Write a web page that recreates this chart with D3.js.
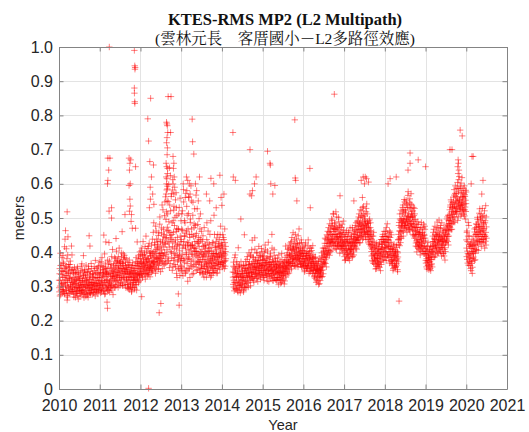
<!DOCTYPE html>
<html>
<head>
<meta charset="utf-8">
<script src="https://cdn.jsdelivr.net/npm/d3@7/dist/d3.min.js"></script>
<style>
  html, body { margin: 0; padding: 0; background: #fff; }
  svg { display: block; }
</style>
</head>
<body>
<svg id="chart" width="529" height="432"></svg>
<script>
// RMS of the MP2 (L2 multipath) combination for station KTES, in metres.
// Each year is stored as two interleaved lists ("a" and "b" sessions) of 120
// evenly spaced values; null marks days without data.
const years = [2010, 2011, 2012, 2013, 2014, 2015, 2016, 2017, 2018, 2019, 2020];

const mp2_2010a = [
  .318,.284,.352,.301,.397,.276,.335,.309,.362,.291,
  .327,.298,.371,.285,.343,.312,.416,.279,.331,.356,
  .304,.345,.288,.381,.317,.269,.338,.296,.364,.322,
  .351,.293,.327,.374,.306,.284,.346,.318,.392,.299,
  .289,.326,.305,.348,.277,.314,.297,.336,.268,.321,
  .308,.281,.339,.296,.357,.273,.318,.302,.329,.287,
  .296,.324,.279,.311,.345,.288,.305,.366,.284,.317,
  .313,.276,.332,.298,.283,.349,.305,.292,.327,.271,
  .287,.319,.303,.341,.275,.312,.294,.358,.306,.282,
  .321,.297,.279,.336,.304,.288,.352,.311,.293,.327,
  .298,.335,.312,.282,.346,.307,.291,.376,.318,.285,
  .309,.283,.341,.302,.325,.288,.359,.296,.318,.334
];
const mp2_2010b = [
  .296,.337,.272,.318,.361,.289,.346,.305,.384,.281,
  .344,.309,.291,.367,.326,.278,.352,.438,.301,.319,
  .287,.332,.359,.274,.311,.392,.298,.341,.281,.356,
  .323,.279,.364,.302,.337,.291,.418,.312,.285,.349,
  .311,.284,.339,.269,.322,.356,.293,.308,.341,.286,
  .279,.318,.297,.352,.286,.327,.263,.341,.306,.292,
  .318,.271,.336,.302,.289,.359,.281,.323,.298,.347,
  .289,.331,.305,.267,.342,.316,.278,.336,.301,.362,
  .316,.278,.342,.297,.325,.268,.351,.309,.287,.331,
  .302,.344,.281,.319,.367,.291,.312,.276,.338,.305,
  .327,.281,.303,.358,.292,.324,.272,.339,.301,.353,
  .292,.326,.308,.354,.278,.337,.312,.289,.371,.304
];
const mp2_2011a = [
  .326,.291,.348,.307,.372,.284,.317,.339,.296,.358,
  .303,.341,.286,.329,.395,.311,.279,.352,.318,.337,
  .345,.298,.321,.377,.289,.334,.306,.428,.315,.283,
  .312,.356,.295,.338,.317,.387,.301,.329,.346,.276,
  .338,.305,.367,.322,.349,.296,.381,.331,.313,.403,
  .354,.318,.376,.333,.297,.361,.342,.412,.326,.368,
  .331,.372,.309,.353,.386,.321,.344,.367,.302,.395,
  .362,.327,.348,.384,.313,.339,.371,.296,.356,.327,
  .318,.349,.295,.337,.363,.306,.328,.377,.291,.342,
  .335,.298,.321,.356,.287,.343,.312,.369,.304,.328,
  .311,.346,.327,.292,.361,.318,.339,.384,.305,.334,
  .348,.321,.367,.336,.389,.315,.352,.332,.401,.343
];
const mp2_2011b = [
  .302,.339,.281,.361,.315,.293,.384,.327,.306,.349,
  .331,.288,.356,.312,.277,.342,.368,.301,.336,.295,
  .318,.352,.291,.336,.302,.365,.287,.341,.374,.309,
  .297,.328,.364,.303,.352,.289,.331,.408,.322,.343,
  .361,.327,.298,.384,.342,.316,.357,.301,.372,.334,
  .328,.369,.341,.306,.387,.352,.318,.346,.374,.302,
  .357,.312,.339,.398,.326,.368,.303,.351,.337,.379,
  .324,.352,.391,.336,.305,.361,.343,.382,.319,.351,
  .342,.306,.371,.327,.294,.356,.318,.338,.362,.301,
  .309,.347,.326,.284,.339,.362,.297,.331,.352,.318,
  .339,.296,.318,.353,.337,.305,.372,.322,.289,.361,
  .327,.372,.339,.311,.358,.381,.334,.366,.318,.393
];
const mp2_2012a = [
  .352,.381,.334,.369,.412,.345,.326,.392,.358,.374,
  .367,.338,.398,.356,.321,.385,.447,.349,.372,.336,
  .381,.346,.363,.417,.335,.372,.354,.398,.328,.389,
  .358,.403,.341,.376,.362,.438,.347,.384,.369,.486,
  .392,.356,.421,.373,.338,.407,.462,.381,.349,.415,
  .368,.432,.384,.351,.457,.396,.372,.503,.386,.343,
  .418,.376,.471,.397,.352,.436,.524,.389,.447,.366,
  .452,.398,.547,.423,.368,.496,.441,.582,.407,.473,
  .512,.386,.463,.598,.427,.355,.538,.449,.624,.402,
  .437,.571,.382,.486,.416,.612,.359,.458,.523,.396,
  .478,.364,.427,.553,.392,.461,.338,.507,.418,.372,
  .423,.351,.468,.386,.531,.404,.332,.447,.375,.492
];
const mp2_2012b = [
  .371,.338,.404,.356,.329,.389,.365,.431,.342,.378,
  .348,.392,.361,.417,.337,.369,.352,.403,.378,.331,
  .362,.411,.339,.382,.354,.426,.348,.371,.397,.357,
  .389,.352,.421,.367,.344,.397,.372,.458,.359,.402,
  .371,.428,.386,.352,.476,.397,.364,.438,.381,.409,
  .423,.378,.449,.361,.412,.391,.482,.368,.431,.397,
  .382,.456,.407,.538,.372,.428,.391,.467,.415,.363,
  .507,.426,.381,.562,.443,.394,.518,.462,.372,.593,
  .431,.548,.376,.489,.415,.647,.458,.367,.521,.442,
  .563,.398,.452,.347,.582,.431,.492,.376,.534,.412,
  .384,.502,.436,.357,.574,.409,.468,.326,.443,.391,
  .467,.378,.512,.352,.421,.389,.558,.362,.431,.347
];
const mp2_2013a = [
  .437,.358,.512,.394,.463,.331,.421,.547,.382,.448,
  .371,.486,.412,.342,.456,.398,.534,.367,.429,.315,
  .468,.386,.427,.562,.351,.443,.404,.497,.362,.418,
  .395,.452,.336,.421,.508,.377,.446,.359,.483,.412,
  .431,.364,.478,.402,.346,.455,.389,.527,.372,.426,
  .384,.443,.356,.417,.372,.468,.341,.401,.436,.365,
  .362,.407,.338,.386,.448,.353,.394,.327,.419,.371,
  .389,.342,.412,.366,.327,.437,.378,.351,.403,.462,
  .347,.395,.366,.423,.338,.381,.354,.492,.371,.332,
  .403,.356,.381,.341,.428,.367,.395,.346,.452,.377,
  .361,.414,.378,.339,.396,.442,.352,.387,.368,.425,
  .392,.357,.437,.383,.412,.364,.476,.398,.371,.421
];
const mp2_2013b = [
  .382,.467,.345,.521,.412,.376,.583,.431,.354,.492,
  .446,.338,.418,.572,.393,.462,.347,.508,.421,.379,
  .352,.513,.408,.381,.452,.326,.487,.419,.594,.373,
  .468,.357,.421,.393,.546,.412,.338,.472,.403,.527,
  .389,.448,.412,.567,.368,.402,.431,.349,.481,.397,
  .427,.371,.498,.392,.341,.437,.512,.378,.352,.461,
  .395,.352,.431,.378,.336,.417,.389,.472,.358,.402,
  .343,.421,.372,.398,.357,.486,.362,.341,.427,.386,
  .412,.368,.339,.403,.452,.376,.327,.413,.389,.358,
  .371,.427,.389,.352,.396,.341,.508,.384,.362,.418,
  .396,.352,.431,.407,.368,.386,.339,.452,.416,.373,
  .364,.418,.392,.349,.451,.403,.371,.427,.386,.537
];
const mp2_2014a = [
  .386,.421,.357,.398,.443,.371,.409,.352,.468,.392,.375,.417,
  null,null,null,null,null,null,null,null,null,null,
  null,null,null,null,null,null,null,null,null,null,
  .342,.306,.371,.318,.287,.356,.329,.392,
  .311,.348,.294,.327,.365,.302,.338,.283,.413,.319,
  .336,.297,.354,.312,.281,.329,.372,.305,.344,.318,
  .301,.338,.319,.362,.289,.325,.451,.307,.346,.296,
  .352,.314,.337,.298,.379,.326,.348,.311,.365,.331,
  .338,.372,.319,.354,.302,.389,.341,.328,.367,.435,
  .361,.327,.384,.345,.312,.372,.356,.409,.336,.349,
  .374,.338,.356,.398,.325,.367,.346,.384,.331,.362,
  .346,.389,.357,.321,.375,.342,.411,.363,.335,.378
];
const mp2_2014b = [
  .412,.368,.451,.389,.362,.437,.396,.374,.428,.359,.402,.381,
  null,null,null,null,null,null,null,null,null,null,
  null,null,null,null,null,null,null,null,null,null,
  .327,.359,.298,.341,.312,.384,.293,.352,
  .338,.291,.326,.372,.309,.345,.287,.331,.358,.303,
  .315,.362,.289,.336,.304,.497,.326,.292,.357,.331,
  .348,.309,.327,.284,.361,.338,.297,.352,.316,.373,
  .327,.362,.341,.309,.387,.331,.354,.298,.342,.398,
  .364,.329,.351,.392,.318,.357,.336,.407,.341,.323,
  .342,.386,.318,.366,.351,.329,.442,.357,.378,.334,
  .357,.323,.398,.339,.368,.314,.376,.352,.417,.339,
  .368,.334,.353,.391,.328,.362,.347,.402,.359,.387
];
const mp2_2015a = [
  .362,.331,.389,.347,.318,.376,.354,.421,.338,.368,
  .345,.382,.327,.359,.403,.336,.371,.349,.314,.386,
  .371,.338,.356,.397,.324,.362,.345,.452,.333,.378,
  .349,.317,.368,.334,.391,.355,.322,.374,.341,.362,
  .336,.359,.318,.347,.383,.326,.352,.305,.368,.339,
  .327,.361,.342,.309,.354,.331,.396,.345,.318,.357,
  .348,.322,.371,.339,.358,.316,.385,.352,.334,.369,
  .375,.351,.398,.362,.337,.412,.369,.386,.348,.393,
  .391,.362,.427,.378,.405,.351,.443,.384,.368,.416,
  .372,.409,.387,.436,.361,.398,.452,.379,.414,.391,
  .403,.368,.426,.385,.357,.412,.394,.468,.376,.398,
  .381,.412,.363,.397,.428,.372,.356,.405,.389,.371
];
const mp2_2015b = [
  .341,.378,.326,.362,.351,.398,.332,.369,.407,.348,
  .369,.334,.357,.316,.383,.347,.429,.338,.364,.352,
  .329,.363,.387,.345,.371,.331,.358,.412,.346,.318,
  .372,.338,.351,.407,.326,.364,.343,.382,.319,.357,
  .351,.317,.372,.338,.326,.364,.342,.392,.321,.356,
  .341,.372,.319,.357,.336,.312,.378,.331,.367,.343,
  .331,.362,.345,.307,.372,.339,.356,.418,.327,.351,
  .362,.391,.343,.378,.408,.356,.372,.339,.421,.367,
  .372,.412,.389,.358,.431,.396,.367,.408,.381,.457,
  .418,.382,.361,.403,.377,.426,.391,.358,.412,.439,
  .378,.422,.391,.364,.448,.381,.407,.372,.426,.386,
  .402,.367,.389,.436,.358,.397,.381,.416,.362,.395
];
const mp2_2016a = [
  .388,.359,.406,.372,.347,.421,.381,.362,.397,.354,
  .376,.402,.358,.383,.436,.367,.391,.345,.378,.412,
  .361,.389,.348,.372,.405,.356,.381,.338,.394,.367,
  .347,.372,.331,.358,.324,.386,.342,.363,.319,.351,
  .338,.361,.316,.349,.374,.327,.345,.308,.356,.332,
  .352,.336,.378,.347,.398,.358,.329,.384,.365,.403,
  .386,.412,.371,.426,.395,.367,.438,.404,.383,.451,
  .418,.393,.447,.426,.472,.405,.436,.391,.461,.428,
  .452,.421,.478,.438,.406,.493,.447,.427,.468,.512,
  .437,.468,.419,.486,.452,.411,.473,.441,.503,.429,
  .446,.418,.462,.432,.489,.421,.455,.397,.474,.438,
  .428,.457,.411,.443,.482,.419,.436,.398,.465,.424
];
const mp2_2016b = [
  .367,.412,.378,.343,.396,.361,.427,.382,.352,.391,
  .389,.352,.371,.418,.363,.397,.338,.384,.402,.356,
  .378,.343,.412,.367,.352,.386,.371,.419,.347,.382,
  .361,.328,.356,.384,.337,.349,.372,.312,.346,.368,
  .327,.352,.339,.366,.306,.343,.381,.329,.348,.317,
  .341,.373,.356,.327,.389,.362,.348,.412,.337,.371,
  .401,.368,.392,.441,.378,.412,.386,.357,.426,.397,
  .436,.461,.407,.442,.398,.457,.417,.483,.432,.402,
  .468,.432,.497,.451,.428,.476,.439,.512,.418,.461,
  .452,.483,.432,.467,.426,.518,.452,.408,.471,.443,
  .421,.467,.438,.502,.417,.446,.478,.426,.453,.412,
  .447,.418,.472,.433,.408,.458,.429,.491,.417,.452
];
const mp2_2017a = [
  .421,.387,.446,.405,.378,.432,.411,.463,.394,.428,
  .398,.437,.382,.419,.457,.403,.376,.428,.445,.409,
  .426,.395,.441,.412,.472,.388,.431,.406,.453,.419,
  .438,.465,.417,.453,.427,.486,.434,.409,.462,.445,
  .458,.491,.436,.474,.512,.449,.483,.428,.501,.467,
  .482,.447,.521,.469,.438,.503,.476,.534,.458,.492,
  .471,.506,.452,.489,.437,.528,.477,.461,.512,.483,
  .456,.484,.427,.468,.445,.497,.432,.472,.418,.461,
  .423,.389,.447,.408,.372,.432,.396,.458,.382,.414,
  .391,.364,.418,.376,.403,.352,.427,.385,.368,.409,
  .382,.411,.358,.396,.427,.371,.403,.346,.389,.416,
  .408,.437,.386,.424,.452,.398,.431,.376,.446,.412
];
const mp2_2017b = [
  .403,.432,.376,.418,.451,.392,.437,.407,.383,.446,
  .426,.392,.458,.412,.386,.432,.408,.471,.397,.421,
  .408,.447,.417,.386,.428,.462,.401,.438,.392,.427,
  .452,.421,.478,.439,.412,.467,.443,.428,.491,.436,
  .476,.442,.503,.467,.427,.486,.458,.524,.447,.479,
  .462,.507,.453,.488,.531,.467,.442,.512,.478,.456,
  .497,.462,.482,.446,.518,.473,.541,.459,.488,.451,
  .437,.473,.451,.492,.423,.463,.441,.486,.452,.412,
  .402,.438,.376,.421,.392,.447,.367,.412,.428,.386,
  .378,.403,.351,.392,.372,.418,.359,.397,.381,.362,
  .398,.368,.423,.381,.356,.408,.392,.372,.437,.364,
  .423,.392,.446,.412,.378,.437,.402,.461,.387,.428
];
const mp2_2018a = [
  .432,.398,.461,.413,.376,.447,.421,.483,.394,.436,
  .417,.384,.446,.402,.368,.429,.458,.392,.411,.374,
  .391,.362,.408,.378,.347,.402,.384,.423,.356,.389,
  .376,.403,.358,.392,.367,.414,.381,.349,.398,.436,
  .452,.423,.487,.441,.512,.462,.428,.493,.457,.476,
  .498,.462,.531,.483,.447,.518,.492,.554,.471,.506,
  .487,.523,.468,.542,.496,.458,.531,.482,.566,.503,
  .512,.478,.546,.491,.462,.527,.503,.571,.484,.518,
  .476,.503,.452,.489,.531,.463,.494,.441,.512,.472,
  .447,.418,.472,.433,.401,.461,.428,.489,.412,.453,
  .436,.409,.458,.421,.392,.447,.472,.415,.438,.402,
  .426,.458,.403,.441,.482,.417,.449,.396,.467,.432
];
const mp2_2018b = [
  .413,.446,.386,.428,.472,.402,.437,.389,.456,.418,
  .436,.398,.417,.462,.386,.443,.408,.372,.427,.451,
  .378,.412,.367,.396,.352,.418,.374,.391,.362,.407,
  .398,.356,.387,.421,.362,.377,.402,.343,.386,.372,
  .437,.478,.462,.419,.497,.446,.472,.523,.441,.488,
  .476,.512,.489,.538,.462,.497,.524,.478,.547,.483,
  .517,.478,.552,.497,.472,.538,.506,.489,.577,.468,
  .492,.531,.467,.556,.502,.482,.541,.473,.512,.538,
  .503,.467,.521,.482,.448,.507,.476,.528,.452,.496,
  .462,.427,.483,.451,.416,.472,.437,.458,.423,.481,
  .418,.452,.431,.467,.406,.442,.419,.487,.428,.456,
  .447,.412,.471,.433,.396,.452,.418,.476,.441,.409
];
const mp2_2019a = [
  .394,.368,.412,.381,.351,.403,.376,.428,.362,.391,
  .383,.357,.406,.372,.394,.346,.418,.379,.366,.398,
  .416,.447,.398,.431,.467,.409,.438,.386,.452,.421,
  .437,.462,.412,.446,.488,.423,.451,.397,.434,.471,
  .426,.453,.403,.438,.478,.414,.445,.389,.431,.462,
  .419,.448,.396,.433,.471,.408,.441,.377,.427,.456,
  .451,.482,.434,.467,.503,.446,.478,.421,.493,.462,
  .493,.524,.472,.538,.501,.466,.547,.512,.484,.531,
  .528,.497,.561,.516,.583,.534,.488,.572,.521,.552,
  .546,.512,.587,.531,.604,.549,.503,.576,.538,.621,
  .552,.518,.593,.537,.506,.574,.546,.618,.529,.563,
  .538,.572,.511,.556,.594,.524,.563,.497,.581,.542
];
const mp2_2019b = [
  .376,.402,.357,.389,.371,.418,.362,.397,.384,.349,
  .371,.408,.386,.352,.416,.378,.363,.402,.386,.357,
  .431,.403,.458,.419,.386,.441,.427,.476,.412,.392,
  .418,.448,.403,.472,.429,.398,.457,.436,.413,.494,
  .447,.408,.432,.468,.401,.442,.421,.486,.412,.437,
  .432,.397,.458,.422,.389,.446,.413,.463,.402,.428,
  .467,.438,.497,.452,.476,.431,.508,.463,.447,.484,
  .508,.476,.532,.491,.553,.482,.519,.467,.541,.503,
  .511,.546,.488,.532,.567,.503,.541,.594,.518,.563,
  .528,.571,.519,.558,.493,.586,.542,.612,.526,.553,
  .534,.587,.526,.561,.602,.538,.512,.581,.547,.523,
  .561,.523,.587,.541,.506,.568,.532,.552,.519,.576
];
const mp2_2020a = [
  .436,.387,.462,.403,.368,.447,.392,.478,.374,.418,
  .397,.361,.424,.382,.346,.411,.373,.438,.356,.402,
  .418,.386,.447,.403,.468,.421,.378,.452,.407,.483,
  .452,.481,.427,.496,.458,.405,.473,.438,.514,.462,
  .476,.431,.503,.459,.417,.492,.446,.528,.468,.437,
  .463,.438,.507,.452,.412,.486,.447,.536,.421,.474
];
const mp2_2020b = [
  .412,.458,.379,.431,.396,.487,.362,.423,.447,.384,
  .371,.416,.352,.392,.428,.367,.401,.338,.419,.382,
  .396,.432,.411,.376,.459,.423,.397,.472,.435,.408,
  .467,.433,.502,.446,.421,.488,.452,.476,.431,.527,
  .447,.497,.462,.512,.438,.474,.429,.503,.452,.486,
  .482,.427,.469,.521,.446,.492,.432,.458,.503,.441
];
const sessionA = [mp2_2010a, mp2_2011a, mp2_2012a, mp2_2013a, mp2_2014a, mp2_2015a,
                  mp2_2016a, mp2_2017a, mp2_2018a, mp2_2019a, mp2_2020a];
const sessionB = [mp2_2010b, mp2_2011b, mp2_2012b, mp2_2013b, mp2_2014b, mp2_2015b,
                  mp2_2016b, mp2_2017b, mp2_2018b, mp2_2019b, mp2_2020b];
const samplesPerYear = 120;

// Isolated epochs away from the main band (decimal year, metres).
const spikeDates = [
  2011.235, 2011.85, 2011.86, 2011.87, 2011.865, 2011.85, 2011.852, 2011.86, 2011.862, 2011.88,
  2011.20, 2011.25, 2011.22, 2011.20, 2011.19, 2011.23, 2011.29, 2011.29,
  2011.72, 2011.76, 2011.74, 2011.73, 2011.75, 2011.72, 2011.74, 2011.75, 2011.73, 2011.78, 2011.77, 2011.80,
  2011.88, 2011.92, 2011.10, 2011.15, 2011.40, 2011.55, 2011.62,
  2012.18, 2012.20, 2012.25, 2012.23, 2012.32, 2012.24, 2012.245, 2012.27, 2012.30, 2012.22, 2012.33,
  2012.64, 2012.65, 2012.66, 2012.67, 2012.652, 2012.642, 2012.662, 2012.655, 2012.63, 2012.644,
  2012.67, 2012.664, 2012.632, 2012.65, 2012.64, 2012.66, 2012.63, 2012.653, 2012.68, 2012.75, 2012.74,
  2012.80, 2012.82, 2012.81, 2012.83, 2012.80, 2012.84, 2012.82, 2012.88,
  2013.13, 2013.16, 2013.20, 2013.14, 2013.22, 2013.18, 2013.25, 2013.27, 2013.28, 2013.31, 2013.35,
  2013.05, 2013.10, 2013.38, 2013.42, 2013.45, 2013.62, 2013.70, 2013.80, 2013.86, 2013.98, 2014.05,
  2013.73, 2013.95, 2014.28, 2014.33, 2014.27, 2014.69, 2014.80, 2014.84, 2014.69, 2014.75, 2014.73,
  2015.12, 2015.18, 2015.19, 2015.20, 2015.30, 2015.25, 2015.79, 2015.80, 2015.81, 2015.84,
  2016.16, 2016.17, 2016.76, 2016.90, 2017.24, 2017.42, 2017.47, 2017.50, 2017.52, 2017.55, 2017.60, 2017.45,
  2018.08, 2018.13, 2018.28, 2018.62, 2018.62, 2018.57, 2018.82, 2019.00,
  2019.60, 2019.65, 2019.85, 2019.90, 2019.80, 2019.81, 2019.79, 2019.82, 2019.80,
  2020.12, 2020.14, 2020.17, 2020.38, 2020.41,
  2010.20, 2010.16, 2010.22, 2010.74, 2010.76, 2010.18, 2010.10, 2010.60,
  2010.20, 2011.19, 2011.18, 2012.46, 2012.50, 2012.03, 2012.95, 2012.93, 2018.35, 2012.20
];
const spikeValues = [
  1.000, 0.990, 0.945, 0.940, 0.935, 0.880, 0.865, 0.840, 0.835, 0.650,
  0.675, 0.675, 0.640, 0.610, 0.600, 0.520, 0.530, 0.500,
  0.675, 0.670, 0.660, 0.640, 0.600, 0.595, 0.555, 0.535, 0.520, 0.510, 0.490, 0.470,
  0.470, 0.430, 0.450, 0.430, 0.440, 0.460, 0.510,
  0.790, 0.725, 0.850, 0.665, 0.655, 0.590, 0.555, 0.620, 0.570, 0.530, 0.540,
  0.780, 0.775, 0.770, 0.750, 0.735, 0.720, 0.705, 0.685, 0.660, 0.650,
  0.645, 0.630, 0.620, 0.615, 0.600, 0.585, 0.570, 0.550, 0.855, 0.855, 0.750,
  0.680, 0.660, 0.645, 0.620, 0.600, 0.590, 0.570, 0.530,
  0.620, 0.610, 0.600, 0.580, 0.570, 0.560, 0.550, 0.789, 0.723, 0.687, 0.600,
  0.600, 0.560, 0.580, 0.550, 0.620, 0.570, 0.550, 0.600, 0.530, 0.560, 0.570,
  0.616, 0.625, 0.620, 0.610, 0.750, 0.700, 0.600, 0.620, 0.570, 0.580, 0.565,
  0.695, 0.660, 0.655, 0.600, 0.595, 0.570, 0.787, 0.617, 0.610, 0.550,
  0.645, 0.530, 0.862, 0.565, 0.550, 0.610, 0.620, 0.600, 0.620, 0.615, 0.605, 0.560,
  0.600, 0.615, 0.620, 0.690, 0.660, 0.640, 0.670, 0.650,
  0.700, 0.700, 0.757, 0.740, 0.670, 0.660, 0.650, 0.640, 0.630,
  0.600, 0.680, 0.680, 0.570, 0.610,
  0.518, 0.463, 0.445, 0.448, 0.418, 0.410, 0.390, 0.390,
  0.260, 0.236, 0.254, 0.223, 0.250, 0.270, 0.245, 0.278, 0.257, 0.002
];

const xTickValues = d3.range(2010, 2022);
const xTickLabels = ["2010", "2011", "2012", "2013", "2014", "2015", "2016", "2017", "2018", "2019", "2020", "2021"];
const yTickValues = d3.range(0, 11).map(k => k / 10);
const yTickLabels = ["0", "0.1", "0.2", "0.3", "0.4", "0.5", "0.6", "0.7", "0.8", "0.9", "1.0"];

// ---- assemble the epochs ----
const points = [];
function addSession(lists, offset) {
  lists.forEach((vals, k) => {
    vals.forEach((v, i) => {
      if (v !== null) points.push({ t: years[k] + (i + offset) / samplesPerYear, v });
    });
  });
}
addSession(sessionA, 0.25);
addSession(sessionB, 0.75);
spikeDates.forEach((t, i) => points.push({ t, v: spikeValues[i] }));

// ---- layout ----
const svg = d3.select("#chart");
const margin = { left: 59, right: 22, top: 47, bottom: 43 };
const W = 529, H = 432;
const plotW = W - margin.left - margin.right;
const plotH = H - margin.top - margin.bottom;

const x = d3.scaleLinear().domain([2010, 2021]).range([margin.left, margin.left + plotW]);
const y = d3.scaleLinear().domain([0, 1]).range([margin.top + plotH, margin.top]);

const axisColor = "#848484";
const textColor = "#262626";
const tickFont = "'Liberation Sans', Arial, Helvetica, sans-serif";

// grid
const grid = svg.append("g").attr("stroke", "#e3e3e3").attr("stroke-width", 1);
grid.selectAll("line.gx").data(xTickValues.slice(1, -1)).join("line")
  .attr("x1", d => Math.round(x(d)) + 0.5).attr("x2", d => Math.round(x(d)) + 0.5)
  .attr("y1", y(1)).attr("y2", y(0));
grid.selectAll("line.gy").data(yTickValues.slice(1, -1)).join("line")
  .attr("y1", d => Math.round(y(d)) + 0.5).attr("y2", d => Math.round(y(d)) + 0.5)
  .attr("x1", x(2010)).attr("x2", x(2021));

// markers
const plus = "M-3.2,0H3.2M0,-3.2V3.2";
svg.append("g")
  .attr("fill", "none").attr("stroke", "#ff0000").attr("stroke-width", 1).attr("stroke-opacity", 0.5)
  .selectAll("path").data(points).join("path")
  .attr("d", plus)
  .attr("transform", d => `translate(${x(d.t).toFixed(2)},${y(d.v).toFixed(2)})`);

// axes (ticks point inward, box all round)
function styleAxis(g) {
  g.select(".domain").attr("stroke", axisColor);
  g.selectAll(".tick line").attr("stroke", axisColor);
  g.selectAll(".tick text").attr("fill", textColor).style("font-family", tickFont).style("font-size", "16px");
}

svg.append("g").attr("transform", `translate(0,${y(0)})`)
  .call(d3.axisBottom(x).tickValues(xTickValues).tickFormat((d, i) => xTickLabels[i])
        .tickSizeInner(-4.5).tickSizeOuter(0).tickPadding(11))
  .call(styleAxis);
svg.append("g").attr("transform", `translate(0,${y(1)})`)
  .call(d3.axisTop(x).tickValues(xTickValues).tickFormat("").tickSizeInner(-4.5).tickSizeOuter(0))
  .call(styleAxis);
svg.append("g").attr("transform", `translate(${x(2010)},0)`)
  .call(d3.axisLeft(y).tickValues(yTickValues).tickFormat((d, i) => yTickLabels[i])
        .tickSizeInner(-4.5).tickSizeOuter(0).tickPadding(6))
  .call(styleAxis);
svg.append("g").attr("transform", `translate(${x(2021)},0)`)
  .call(d3.axisRight(y).tickValues(yTickValues).tickFormat("").tickSizeInner(-4.5).tickSizeOuter(0))
  .call(styleAxis);

svg.selectAll(".domain").attr("fill", "none");

// labels
svg.append("text")
  .attr("x", (x(2010) + x(2021)) / 2).attr("y", 430)
  .attr("text-anchor", "middle").attr("fill", textColor)
  .style("font-family", tickFont).style("font-size", "14.5px")
  .text("Year");

svg.append("text")
  .attr("transform", `translate(24,${(y(0) + y(1)) / 2}) rotate(-90)`)
  .attr("text-anchor", "middle").attr("fill", textColor)
  .style("font-family", tickFont).style("font-size", "14.5px")
  .text("meters");

const titleX = (x(2010) + x(2021)) / 2 + 2;
svg.append("text")
  .attr("x", titleX).attr("y", 25)
  .attr("text-anchor", "middle").attr("fill", "#111")
  .style("font-family", "'Liberation Serif', 'Times New Roman', serif")
  .style("font-weight", "bold").style("font-size", "16.5px")
  .text("KTES-RMS MP2 (L2 Multipath)");
svg.append("text")
  .attr("x", titleX).attr("y", 44)
  .attr("text-anchor", "middle").attr("fill", "#111")
  .style("font-family", "'Liberation Serif', 'Noto Serif CJK TC', 'Noto Sans CJK TC', serif")
  .style("font-size", "15.5px")
  .text("(雲林元長　客厝國小－L2多路徑效應)");
</script>
</body>
</html>
